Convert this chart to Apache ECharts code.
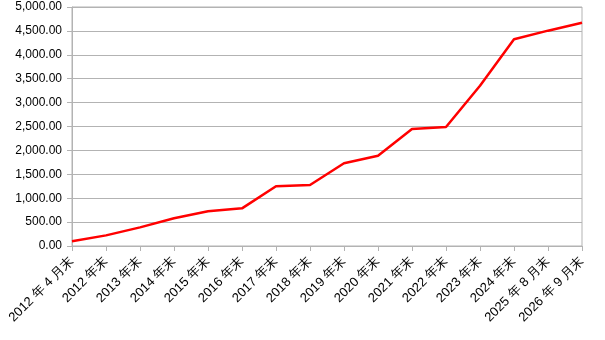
<!DOCTYPE html>
<html><head><meta charset="utf-8">
<script src="https://cdn.jsdelivr.net/npm/echarts@6/dist/echarts.min.js"></script>
<style>html,body{margin:0;padding:0;background:#fff}#c{width:605px;height:340px}</style>
</head><body><div id="c"></div>
<script>
const categories = ['2012 年 4 月末','2012 年末','2013 年末','2014 年末','2015 年末','2016 年末','2017 年末','2018 年末','2019 年末','2020 年末','2021 年末','2022 年末','2023 年末','2024 年末','2025 年 8 月末','2026 年 9 月末'];
const values = [100, 222, 390, 582, 726, 788, 1249, 1276, 1730, 1890, 2448, 2490, 3354, 4324, 4505, 4672];
const yMin = 0, yMax = 5000, yInterval = 500;

const chart = echarts.init(document.getElementById('c'));
chart.setOption({
  animation: false,
  grid: {left: 72, right: 23, top: 7, bottom: 94, show: true, borderColor: '#b3b3b3', borderWidth: 1},
  xAxis: {
    type: 'category', data: categories, boundaryGap: false,
    axisLine: {lineStyle: {color: '#b3b3b3'}},
    axisTick: {show: true, length: 5, lineStyle: {color: '#b3b3b3'}, interval: 0},
    axisLabel: {rotate: 45, interval: 0, color: '#000', fontSize: 13, fontFamily: 'Liberation Sans', margin: 13},
    splitLine: {show: false}
  },
  yAxis: {
    type: 'value', min: yMin, max: yMax, interval: yInterval,
    axisLine: {show: true, lineStyle: {color: '#b3b3b3'}},
    axisTick: {show: true, length: 5, lineStyle: {color: '#b3b3b3'}},
    axisLabel: {color: '#000', fontSize: 12, fontFamily: 'Liberation Sans', margin: 10,
      formatter: v => v.toLocaleString('en-US', {minimumFractionDigits: 2, maximumFractionDigits: 2})},
    splitLine: {show: true, lineStyle: {color: '#b3b3b3'}}
  },
  series: [{type: 'line', data: values, showSymbol: false, lineStyle: {color: '#ff0000', width: 2.5}, itemStyle: {color: '#ff0000'}}]
});
</script></body></html>
